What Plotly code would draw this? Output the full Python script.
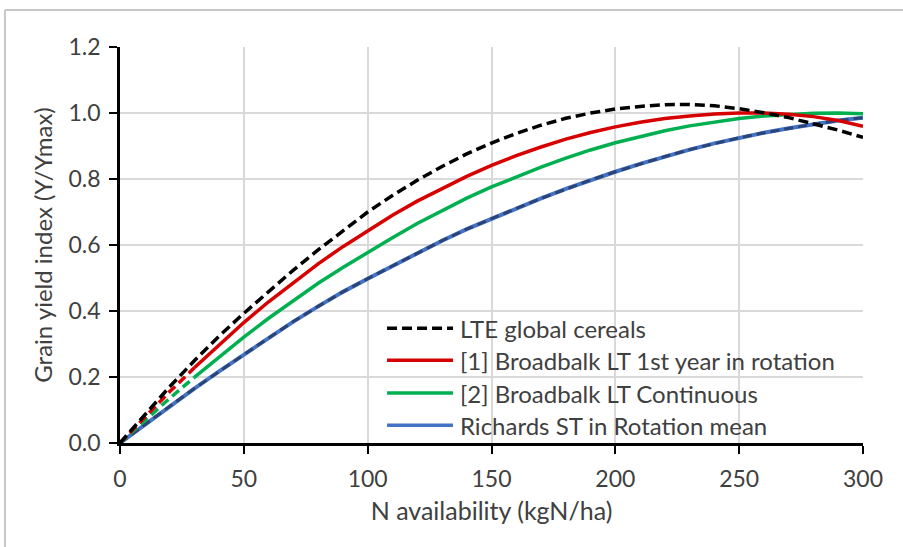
import plotly.graph_objects as go

# Nitrogen availability (kgN/ha)
n_avail = [0, 10, 20, 30, 40, 50, 60, 70, 80, 90, 100, 110, 120, 130, 140, 150,
           160, 170, 180, 190, 200, 210, 220, 230, 240, 250, 260, 270, 280, 290, 300]

# Grain yield index (Y/Ymax) for each response curve
lte_global = [0, 0.086, 0.170, 0.249, 0.324, 0.393, 0.459, 0.524, 0.585, 0.643, 0.700,
              0.750, 0.796, 0.838, 0.876, 0.909, 0.938, 0.963, 0.984, 1.000, 1.012,
              1.020, 1.025, 1.026, 1.022, 1.013, 1.001, 0.986, 0.968, 0.948, 0.926]
bb_rotation = [0, 0.078, 0.155, 0.228, 0.298, 0.365, 0.428, 0.487, 0.543, 0.595, 0.644,
               0.690, 0.733, 0.772, 0.808, 0.841, 0.871, 0.897, 0.921, 0.941, 0.958,
               0.972, 0.983, 0.991, 0.997, 1.000, 1.000, 0.996, 0.989, 0.977, 0.960]
bb_continuous = [0, 0.068, 0.135, 0.199, 0.261, 0.321, 0.378, 0.432, 0.484, 0.532, 0.578,
                 0.622, 0.665, 0.705, 0.742, 0.776, 0.807, 0.836, 0.863, 0.888, 0.910,
                 0.929, 0.946, 0.961, 0.973, 0.983, 0.991, 0.996, 0.999, 1.000, 0.998]
richards = [0, 0.056, 0.111, 0.165, 0.217, 0.268, 0.318, 0.368, 0.414, 0.458, 0.498,
            0.537, 0.576, 0.613, 0.648, 0.680, 0.711, 0.741, 0.770, 0.797, 0.822,
            0.846, 0.868, 0.889, 0.908, 0.925, 0.940, 0.954, 0.966, 0.977, 0.986]

series_names = ["LTE global cereals",
                "[1] Broadbalk LT 1st year in rotation",
                "[2] Broadbalk LT Continuous",
                "Richards ST in Rotation mean"]

x_ticks = [0, 50, 100, 150, 200, 250, 300]
y_ticks = [0.0, 0.2, 0.4, 0.6, 0.8, 1.0, 1.2]
y_tick_text = ["0.0", "0.2", "0.4", "0.6", "0.8", "1.0", "1.2"]

# Low-N part of the Broadbalk curves is drawn dashed (extrapolated)
EXTRAP_END = 3  # index of N = 30

BLACK = "#000000"
RED = "#D60000"
GREEN = "#00B050"
BLUE = "#4472C4"
NAVY = "#2B4478"
FONT = "Lato"
TEXT = "#404040"

fig = go.Figure()

# Richards: light blue line with navy dashes on top
fig.add_trace(go.Scatter(x=n_avail, y=richards, mode="lines", showlegend=False,
                         line=dict(color=BLUE, width=4)))
fig.add_trace(go.Scatter(x=n_avail, y=richards, mode="lines", showlegend=False,
                         line=dict(color=NAVY, width=3, dash="9px,5px")))

# Broadbalk continuous
fig.add_trace(go.Scatter(x=n_avail[EXTRAP_END:], y=bb_continuous[EXTRAP_END:], mode="lines",
                         showlegend=False, line=dict(color=GREEN, width=3.5)))
fig.add_trace(go.Scatter(x=n_avail[:EXTRAP_END + 1], y=bb_continuous[:EXTRAP_END + 1],
                         mode="lines", showlegend=False,
                         line=dict(color=GREEN, width=3.5, dash="9px,5px")))

# Broadbalk 1st year in rotation
fig.add_trace(go.Scatter(x=n_avail[EXTRAP_END:], y=bb_rotation[EXTRAP_END:], mode="lines",
                         showlegend=False, line=dict(color=RED, width=3.5)))
fig.add_trace(go.Scatter(x=n_avail[:EXTRAP_END + 1], y=bb_rotation[:EXTRAP_END + 1],
                         mode="lines", showlegend=False,
                         line=dict(color=RED, width=3.5, dash="9px,5px")))

# LTE global cereals
fig.add_trace(go.Scatter(x=n_avail, y=lte_global, mode="lines", showlegend=False,
                         line=dict(color=BLACK, width=3.5, dash="10px,5px")))

# Legend drawn inside the plot area
legend_styles = [dict(color=BLACK, width=3.5, dash="10px,5px"),
                 dict(color=RED, width=3.5),
                 dict(color=GREEN, width=3.5),
                 dict(color=BLUE, width=3.5)]
legend_rows = [0.290, 0.209, 0.126, 0.045]
shapes = []
annotations = []
for name, style, yrow in zip(series_names, legend_styles, legend_rows):
    shapes.append(dict(type="line", xref="paper", yref="paper",
                       x0=0.3594, x1=0.4482, y0=yrow, y1=yrow, line=style))
    annotations.append(dict(text=name, xref="paper", yref="paper", x=0.455, y=yrow,
                            xanchor="left", yanchor="middle", showarrow=False,
                            font=dict(family=FONT, size=24, color=TEXT)))

# Chart frame (top and left edges)
frame = dict(color="#C8C8C8", width=2)
shapes.append(dict(type="line", xref="paper", yref="paper",
                   x0=-0.1548, x1=1.06, y0=1.0934, y1=1.0934, line=frame))
shapes.append(dict(type="line", xref="paper", yref="paper",
                   x0=-0.1548, x1=-0.1548, y0=1.0934, y1=-0.27, line=frame))

fig.update_layout(
    width=903, height=547,
    margin=dict(l=120, r=40, t=47, b=104),
    paper_bgcolor="white", plot_bgcolor="white",
    font=dict(family=FONT, size=23, color=TEXT),
    shapes=shapes, annotations=annotations,
    showlegend=False,
)
fig.update_xaxes(
    range=[0, 300], tickvals=x_ticks, ticks="outside", ticklen=8, tickwidth=2,
    tickcolor=BLACK, showline=True, linecolor=BLACK, linewidth=2.5,
    showgrid=True, gridcolor="#D9D9D9", gridwidth=2, zeroline=False,
    ticklabelstandoff=6,
    tickfont=dict(family=FONT, size=23, color=TEXT),
    title=dict(text="N availability (kgN/ha)", font=dict(family=FONT, size=25, color=TEXT),
               standoff=12),
)
fig.update_yaxes(
    range=[0, 1.2], tickvals=y_ticks, ticktext=y_tick_text, ticks="outside", ticklen=8,
    tickwidth=2, tickcolor=BLACK, showline=True, linecolor=BLACK, linewidth=2.5,
    showgrid=True, gridcolor="#D9D9D9", gridwidth=2, zeroline=False,
    ticklabelstandoff=4,
    tickfont=dict(family=FONT, size=23, color=TEXT),
    title=dict(text="Grain yield index (Y/Ymax)", font=dict(family=FONT, size=24, color=TEXT),
               standoff=10),
)

fig.write_html("out.html")
